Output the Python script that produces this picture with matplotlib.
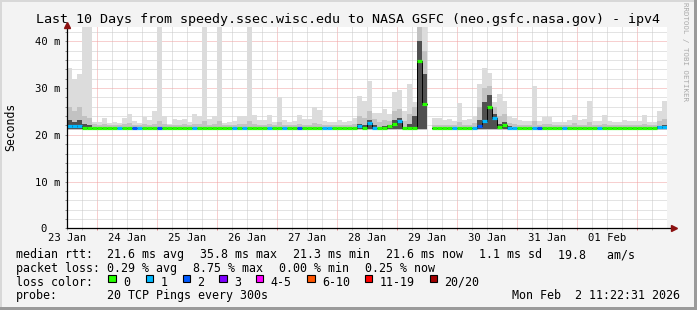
import numpy as np
import matplotlib
matplotlib.use('Agg')
import matplotlib.pyplot as plt
from matplotlib.patches import Rectangle

# ---- data (ms), 120 bins of 2 hours ----
# time axis is in days since 23 Jan 00:00
t_start = 0.495
n_bins = 120
bin_days = 10.0 / n_bins

day_labels = ['23 Jan', '24 Jan', '25 Jan', '26 Jan', '27 Jan',
              '28 Jan', '29 Jan', '30 Jan', '31 Jan', '01 Feb']

nan = np.nan

median = [
    21.8, 21.8, 21.8, 21.4, 21.4, 21.4, 21.4, 21.4, 21.4, 21.4, 21.4, 21.4,
    21.4, 21.4, 21.4, 21.4, 21.4, 21.4, 21.4, 21.4, 21.4, 21.4, 21.4, 21.4,
    21.4, 21.4, 21.4, 21.4, 21.4, 21.4, 21.4, 21.4, 21.4, 21.4, 21.4, 21.4,
    21.4, 21.4, 21.4, 21.4, 21.4, 21.4, 21.4, 21.4, 21.4, 21.4, 21.4, 21.4,
    21.4, 21.4, 21.4, 21.4, 21.4, 21.4, 21.4, 21.4, 21.4, 21.4, 21.8, 21.4,
    22.5, 21.5, 21.4, 21.4, 21.8, 22.3, 22.9, 21.4, 21.4, 21.4, 35.8, 26.6,
    nan, 21.4, 21.4, 21.4, 21.4, 21.4, 21.4, 21.4, 21.4, 21.4, 21.9, 23.0,
    26.0, 23.6, 21.6, 22.0, 21.5, 21.4, 21.4, 21.4, 21.4, 21.4, 21.4, 21.4,
    21.4, 21.4, 21.4, 21.4, 21.4, 21.4, 21.4, 21.4, 21.4, 21.4, 21.4, 21.4,
    21.4, 21.4, 21.4, 21.4, 21.4, 21.4, 21.4, 21.4, 21.4, 21.4, 21.6, 21.6,
]

# loss colour class per bin (index into loss_colors)
loss = [
    1, 1, 1, 0, 0, 0, 0, 0, 0, 0, 1, 0,
    0, 2, 1, 0, 0, 0, 2, 0, 0, 0, 0, 0,
    0, 1, 0, 0, 0, 0, 0, 0, 0, 1, 0, 1,
    0, 0, 0, 0, 1, 0, 0, 1, 0, 0, 2, 0,
    0, 0, 0, 1, 1, 0, 0, 0, 0, 0, 1, 0,
    1, 1, 0, 0, 0, 0, 1, 0, 0, 0, 0, 0,
    0, 0, 0, 0, 0, 1, 0, 0, 0, 1, 2, 1,
    0, 1, 0, 0, 1, 1, 0, 0, 0, 1, 2, 0,
    0, 0, 0, 1, 0, 0, 0, 0, 0, 0, 1, 0,
    0, 0, 0, 0, 0, 0, 0, 0, 0, 0, 1, 1,
]

# smoke: top of the lightest band (slowest ping)
smoke_max = [
    34.4, 32.0, 33.0, 45.0, 45.0, 22.8, 22.8, 23.6, 22.6, 22.8, 22.6, 23.7,
    24.5, 23.0, 22.6, 23.8, 23.2, 25.0, 45.0, 24.0, 22.4, 23.4, 23.2, 23.4,
    22.8, 24.5, 24.0, 45.0, 23.4, 24.0, 45.0, 22.6, 22.8, 23.0, 24.0, 24.0,
    45.0, 24.2, 23.2, 23.2, 24.2, 22.8, 28.0, 23.2, 22.8, 23.0, 24.3, 23.4,
    23.4, 26.0, 25.4, 23.0, 22.8, 22.8, 23.2, 22.8, 23.0, 23.6, 28.3, 27.3,
    31.6, 24.7, 24.7, 25.6, 24.5, 29.2, 29.6, 25.2, 30.8, 27.0, 45.0, 45.0,
    nan, 23.6, 23.6, 23.2, 23.4, 23.0, 26.7, 23.2, 23.4, 24.0, 30.8, 34.4,
    33.3, 27.0, 28.8, 27.3, 24.0, 23.6, 23.2, 23.0, 23.0, 30.4, 23.0, 23.8,
    23.8, 22.8, 22.8, 22.8, 23.2, 24.2, 23.2, 23.4, 27.3, 23.0, 23.0, 24.2,
    23.0, 22.8, 22.8, 23.2, 23.0, 23.0, 23.0, 24.2, 22.8, 22.8, 25.0, 27.3,
]

# smoke: top of the medium grey band
smoke_mid = [
    26.0, 25.0, 26.0, 24.0, 23.5, 22.3, 22.2, 22.4, 22.2, 22.2, 22.2, 22.4,
    22.6, 22.2, 22.2, 22.4, 22.2, 22.4, 23.0, 22.4, 22.1, 22.2, 22.2, 22.4,
    22.2, 22.4, 22.4, 23.0, 22.2, 22.4, 23.0, 22.2, 22.2, 22.2, 22.4, 22.4,
    23.0, 22.4, 22.2, 22.2, 22.4, 22.2, 22.8, 22.2, 22.2, 22.2, 22.4, 22.2,
    22.2, 22.6, 22.4, 22.2, 22.2, 22.2, 22.2, 22.2, 22.2, 22.4, 24.0, 23.6,
    25.0, 23.4, 22.8, 23.2, 23.0, 25.0, 25.5, 23.0, 24.5, 26.0, 43.0, 38.0,
    nan, 22.2, 22.2, 22.2, 22.2, 22.2, 22.8, 22.2, 22.2, 22.6, 26.0, 30.0,
    30.5, 26.0, 24.0, 24.5, 22.6, 22.4, 22.2, 22.2, 22.2, 23.0, 22.2, 22.4,
    22.4, 22.2, 22.2, 22.2, 22.2, 22.6, 22.2, 22.2, 22.8, 22.2, 22.2, 22.4,
    22.2, 22.2, 22.2, 22.2, 22.2, 22.2, 22.2, 22.4, 22.2, 22.2, 23.0, 23.4,
]

# smoke: top of the dark band close to the median
smoke_dark = [
    23.2, 22.8, 23.2, 22.4, 22.0, 21.5, 21.5, 21.5, 21.5, 21.5, 21.5, 21.5,
    21.5, 21.5, 21.5, 21.5, 21.5, 21.5, 21.5, 21.5, 21.5, 21.5, 21.5, 21.5,
    21.5, 21.5, 21.5, 21.5, 21.5, 21.5, 21.5, 21.5, 21.5, 21.5, 21.5, 21.5,
    21.5, 21.5, 21.5, 21.5, 21.5, 21.5, 21.5, 21.5, 21.5, 21.5, 21.5, 21.5,
    21.5, 21.5, 21.5, 21.5, 21.5, 21.5, 21.5, 21.5, 21.5, 21.5, 22.4, 22.0,
    23.2, 22.0, 21.5, 21.8, 22.2, 23.2, 23.6, 21.5, 22.4, 24.0, 40.0, 33.0,
    nan, 21.5, 21.5, 21.5, 21.5, 21.5, 21.5, 21.5, 21.5, 21.5, 23.2, 27.0,
    28.5, 24.5, 22.4, 22.8, 21.8, 21.5, 21.5, 21.5, 21.5, 21.5, 21.5, 21.5,
    21.5, 21.5, 21.5, 21.5, 21.5, 21.5, 21.5, 21.5, 21.5, 21.5, 21.5, 21.5,
    21.5, 21.5, 21.5, 21.5, 21.5, 21.5, 21.5, 21.5, 21.5, 21.5, 21.8, 22.0,
]
smoke_floor = 21.0

loss_colors = ['#26ff00', '#00b8ff', '#0059ff', '#7e00ff',
               '#ff00ff', '#ff5500', '#ff0000', '#a10000']
loss_names = ['0', '1', '2', '3', '4-5', '6-10', '11-19', '20/20']

legend_rtt = [('21.6 ms avg', 107), ('35.8 ms max', 200), ('21.3 ms min', 293.3),
              ('21.6 ms now', 386), ('1.1 ms sd', 479.3), ('19.8   am/s', 558.3)]
legend_loss = [('0.29 % avg', 107), ('8.75 % max', 193.3),
               ('0.00 % min', 279), ('0.25 % now', 365)]

# ---- figure ----
W, H = 697, 310
BG = '#f3f3f3'
MONO = 'DejaVu Sans Mono'
plt.rcParams['font.family'] = MONO

fig = plt.figure(figsize=(W / 100, H / 100), dpi=100, facecolor=BG)
ax_l, ax_r, ax_b, ax_t = 66.7, 666.7, 228.3, 27.3
ax = fig.add_axes([ax_l / W, 1 - ax_b / H, (ax_r - ax_l) / W, (ax_b - ax_t) / H])
ax.set_facecolor('white')

median = np.array(median)
smoke_max = np.array(smoke_max)
smoke_mid = np.array(smoke_mid)
smoke_dark = np.array(smoke_dark)
starts = t_start + np.arange(n_bins) * bin_days

# smoke bands
ax.bar(starts, smoke_max - smoke_floor, bottom=smoke_floor, width=bin_days,
       align='edge', color='#dcdcdc', linewidth=0, zorder=2)
ax.bar(starts, smoke_mid - smoke_floor, bottom=smoke_floor, width=bin_days,
       align='edge', color='#c2c2c2', linewidth=0, zorder=3)
ax.bar(starts, smoke_dark - (smoke_floor + 0.3), bottom=smoke_floor + 0.3, width=bin_days,
       align='edge', color='#505050', linewidth=0, zorder=4)

# median, stepped, coloured by loss
ax.step(np.append(starts, starts[-1] + bin_days), np.append(median, median[-1]),
        where='post', color='black', lw=0.7, zorder=5)
ax.hlines(median, starts, starts + bin_days, colors=[loss_colors[k] for k in loss],
          lw=2.3, zorder=6)

# axes / grid
ax.set_xlim(t_start, t_start + 10)
ax.set_ylim(0, 43.0)
ax.set_yticks([0, 10, 20, 30, 40])
ax.set_yticklabels(['0  ', '10 m', '20 m', '30 m', '40 m'])
ax.set_yticks(np.arange(2, 43, 2), minor=True)
ax.set_xticks(np.arange(1, 11))
ax.set_xticklabels([])
ax.set_xticks(np.arange(0.5, 10.5, 0.25), minor=True)
ax.set_axisbelow(True)
ax.grid(which='minor', color='#c8c8c8', lw=0.72, linestyle=(0, (1, 1)))
ax.grid(which='major', color='#f0a0a0', lw=0.72, linestyle=(0, (1, 1)))
ax.tick_params(axis='both', which='both', direction='out', length=1.5, width=0.7)
ax.tick_params(axis='x', which='major', color='#e08080')
ax.tick_params(axis='x', which='minor', color='#bbbbbb')
ax.tick_params(axis='y', which='both', color='#888888', labelsize=7.6, pad=3.2)
for s in ax.spines.values():
    s.set_visible(False)

for i, lab in enumerate(day_labels):
    ax.annotate(lab, xy=(i + 0.5, 0), xycoords=ax.get_xaxis_transform(),
                xytext=(0, -3.4), textcoords='offset points',
                ha='center', va='top', fontsize=7.6, annotation_clip=False)

# axis lines with arrows
ax.plot([0, 1.012], [0, 0], transform=ax.transAxes, color='black', lw=0.9,
        clip_on=False, zorder=8)
ax.plot([1.012], [0], marker='>', ms=4.5, color='#8b1010', transform=ax.transAxes,
        clip_on=False, zorder=9)
ax.plot([0, 0], [0, 1.012], transform=ax.transAxes, color='black', lw=0.9,
        clip_on=False, zorder=8)
ax.plot([0], [1.012], marker='^', ms=4.5, color='#8b1010', transform=ax.transAxes,
        clip_on=False, zorder=9)

# overlay in pixel coordinates for the texts and legend
ov = fig.add_axes([0, 0, 1, 1], facecolor='none')
ov.set_xlim(0, W)
ov.set_ylim(H, 0)
ov.axis('off')

# frame
ov.add_patch(Rectangle((0, 0), W, 1.5, color='#d8d8d8', lw=0))
ov.add_patch(Rectangle((0, 0), 1.5, H, color='#d8d8d8', lw=0))
ov.add_patch(Rectangle((W - 3, 0), 3, H, color='#9a9a9a', lw=0))
ov.add_patch(Rectangle((0, H - 3), W, 3, color='#9a9a9a', lw=0))

ov.text(348, 19, 'Last 10 Days from speedy.ssec.wisc.edu to NASA GSFC (neo.gsfc.nasa.gov) - ipv4',
        ha='center', va='center', fontsize=9.6)
ov.text(11, 127, 'Seconds', rotation=90, ha='center', va='center', fontsize=8.3)
ov.text(685.5, 52, 'RRDTOOL / TOBI OETIKER', rotation=270, ha='center', va='center',
        fontsize=5.3, color='#aaaaaa')

fs = 8.35
y1, y2, y3, y4 = 258.3, 271.8, 285.5, 299.2
ov.text(16, y1, 'median rtt:', fontsize=fs, va='baseline')
for txt, x in legend_rtt:
    ov.text(x, y1, txt, fontsize=fs, va='baseline')
ov.text(16, y2, 'packet loss:', fontsize=fs, va='baseline')
for txt, x in legend_loss:
    ov.text(x, y2, txt, fontsize=fs, va='baseline')
ov.text(16, y3, 'loss color:', fontsize=fs, va='baseline')
box_x = [108.3, 145.7, 182.7, 219.3, 256, 307.3, 365, 430]
for bx, col, name in zip(box_x, loss_colors, loss_names):
    ov.add_patch(Rectangle((bx, 274.5), 7.3, 7.8, facecolor=col, edgecolor='black', lw=0.8))
    ov.text(bx + 14.5, y3, name, fontsize=fs, va='baseline')
ov.text(16, y4, 'probe:', fontsize=fs, va='baseline')
ov.text(107, y4, '20 TCP Pings every 300s', fontsize=fs, va='baseline')
ov.text(680, y4, 'Mon Feb  2 11:22:31 2026', fontsize=fs, va='baseline', ha='right')

fig.savefig('out.png', dpi=100, facecolor=BG)
